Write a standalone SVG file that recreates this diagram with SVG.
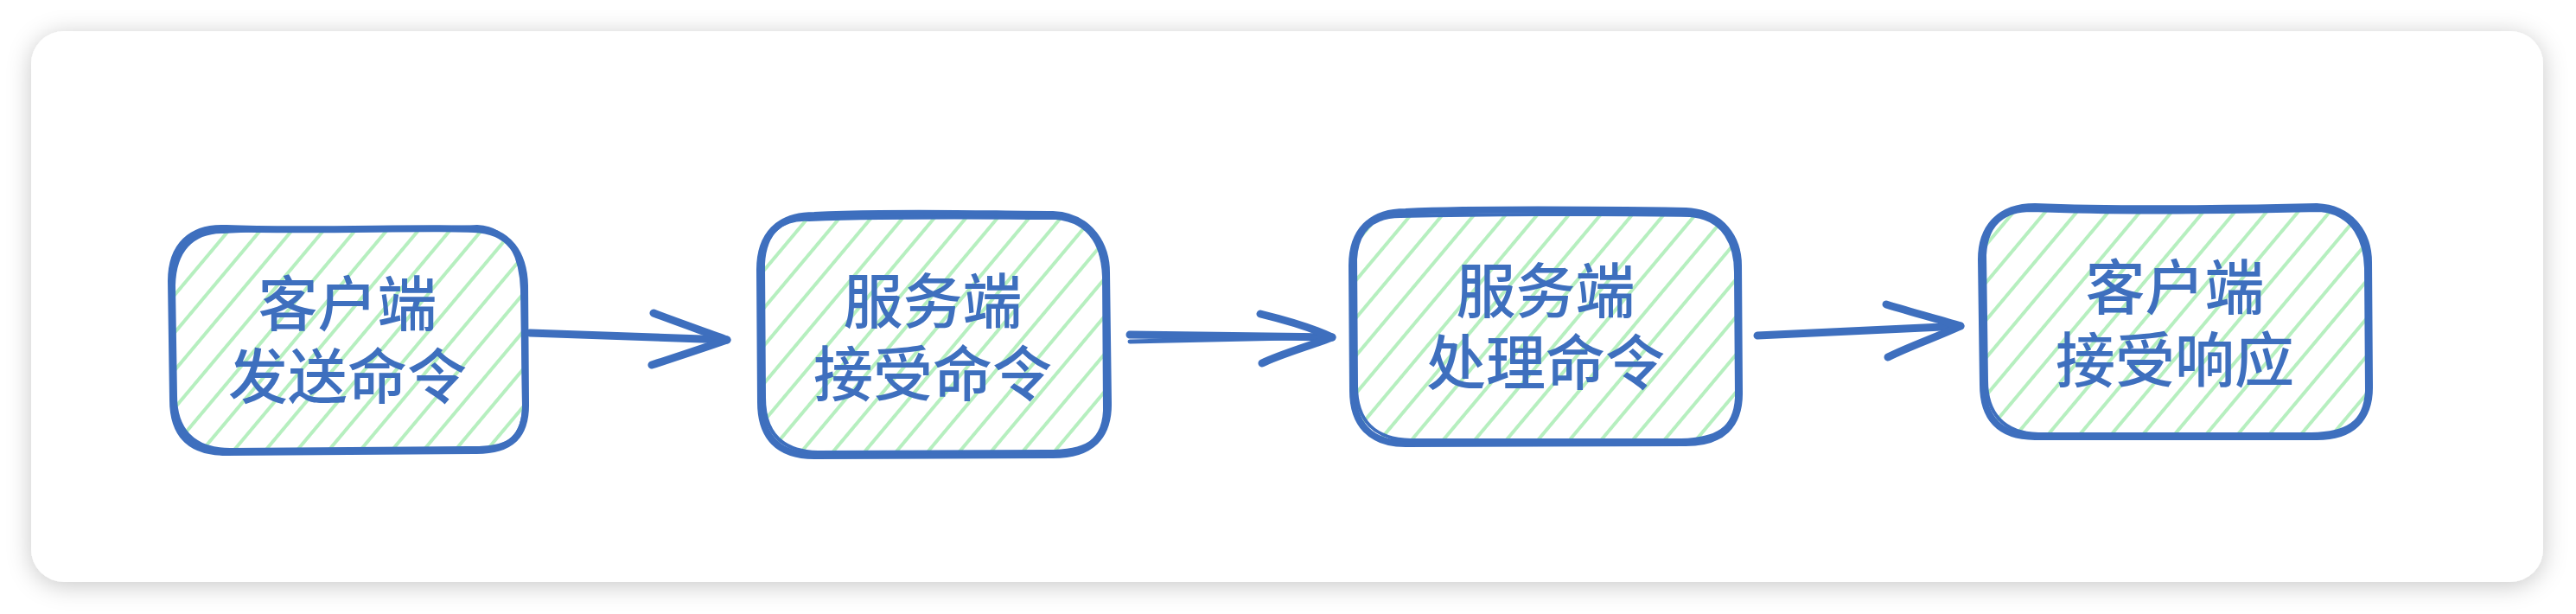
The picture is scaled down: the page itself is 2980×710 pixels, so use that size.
<svg xmlns="http://www.w3.org/2000/svg" width="2980" height="710" viewBox="0 0 2980 710">
<style>
.card{fill:#ffffff;}
.hatch{fill:url(#hatch);stroke:none;}
.edge{fill:none;stroke:#3e6fbe;stroke-width:8;stroke-linecap:round;stroke-linejoin:round;}
.edge2{fill:none;stroke:#3e6fbe;stroke-width:4;stroke-linecap:round;stroke-linejoin:round;}
.lbl{font-family:"Noto Sans CJK SC","Noto Sans",sans-serif;font-size:69px;font-weight:500;fill:#3e6fbe;text-anchor:middle;}
.conn{fill:none;stroke:#3e6fbe;stroke-width:9;stroke-linecap:round;stroke-linejoin:round;}
.conn2{fill:none;stroke:#3e6fbe;stroke-width:5;stroke-linecap:round;stroke-linejoin:round;}
</style>
<defs>
<filter id="shadow" x="-5%" y="-20%" width="110%" height="140%">
<feDropShadow dx="0" dy="4" stdDeviation="14" flood-color="#000000" flood-opacity="0.22"/>
</filter>
<pattern id="hatch" patternUnits="userSpaceOnUse" width="28" height="28" patternTransform="rotate(40)">
<line x1="10" y1="-5" x2="10" y2="35" stroke="#b6efbf" stroke-width="4"/>
</pattern>
</defs>
<rect x="0" y="0" width="2980" height="710" fill="#ffffff"/>
<rect class="card" x="36" y="36" width="2906" height="637" rx="38" ry="38" filter="url(#shadow)"/>

<g id="node1">
<path class="hatch" d="M 262,266 C 350,270 500,264 548,267 C 590,268 606,295 607,330 L 608,465 C 609,505 590,521 548,521 L 262,521 C 218,521 202,500 202,462 L 200,325 C 200,285 220,264 262,266 Z"/>
<path class="edge" d="M 262,264 C 350,268 500,262 548,265 C 590,266 606,295 607,330 L 608,465 C 609,505 590,522 548,521 L 262,523 C 218,523 200,500 200,462 L 198,325 C 198,285 220,262 262,264 Z"/>
<path class="edge2" d="M 258,268 C 360,262 480,266 552,262 C 594,264 603,305 604,335 L 606,472 C 604,510 585,519 542,518 L 266,520 C 222,520 203,495 203,458 L 201,330 C 202,290 222,268 258,268"/>
<text class="lbl"><tspan x="402" y="377">客户端</tspan><tspan x="402" y="461">发送命令</tspan></text>
</g>

<g id="node2">
<path class="hatch" d="M 942,251 C 1040,246 1150,250 1218,250 C 1262,252 1279,285 1279,315 L 1281,465 C 1281,505 1262,524 1218,524 L 942,525 C 900,525 882,505 882,465 L 881,312 C 881,272 900,251 942,251 Z"/>
<path class="edge" d="M 942,249 C 1040,244 1150,248 1218,248 C 1262,250 1280,285 1280,315 L 1282,465 C 1283,505 1262,526 1218,526 L 942,527 C 900,527 880,505 880,465 L 879,312 C 879,272 900,249 942,249 Z"/>
<path class="edge2" d="M 936,254 C 1040,250 1150,252 1222,252 C 1265,256 1276,290 1277,320 L 1278,475 C 1276,512 1255,522 1212,522 L 946,523 C 904,522 884,500 884,460 L 883,305 C 885,268 905,252 936,254"/>
<text class="lbl"><tspan x="1079" y="374">服务端</tspan><tspan x="1079" y="458">接受命令</tspan></text>
</g>

<g id="node3">
<path class="hatch" d="M 1626,247 C 1720,243 1880,245 1950,246 C 1993,248 2010,277 2010,307 L 2011,452 C 2011,492 1992,510 1950,510 L 1626,511 C 1585,511 1567,490 1567,452 L 1566,307 C 1566,268 1585,247 1626,247 Z"/>
<path class="edge" d="M 1626,245 C 1720,241 1880,243 1950,244 C 1993,246 2011,277 2011,307 L 2012,452 C 2013,492 1992,512 1950,512 L 1626,513 C 1585,513 1565,490 1565,452 L 1564,307 C 1564,268 1585,245 1626,245 Z"/>
<path class="edge2" d="M 1620,250 C 1720,248 1880,247 1955,249 C 1996,252 2008,285 2008,315 L 2009,460 C 2007,496 1986,508 1945,509 L 1632,509 C 1590,508 1569,486 1569,446 L 1568,300 C 1570,264 1590,250 1620,250"/>
<text class="lbl"><tspan x="1788" y="362">服务端</tspan><tspan x="1788" y="445">处理命令</tspan></text>
</g>

<g id="node4">
<path class="hatch" d="M 2354,241 C 2450,245 2600,243 2680,241 C 2722,243 2738,273 2739,303 L 2740,445 C 2740,485 2720,503 2680,503 L 2354,503 C 2312,503 2296,482 2296,445 L 2294,300 C 2294,262 2314,241 2354,241 Z"/>
<path class="edge" d="M 2354,239 C 2450,243 2600,241 2680,239 C 2722,241 2740,273 2740,303 L 2741,445 C 2742,485 2720,505 2680,505 L 2354,505 C 2312,505 2294,482 2294,445 L 2292,300 C 2292,262 2314,239 2354,239 Z"/>
<path class="edge2" d="M 2350,243 C 2450,247 2600,245 2684,243 C 2724,247 2736,280 2737,310 L 2738,452 C 2736,490 2714,501 2674,502 L 2358,502 C 2318,501 2298,478 2298,440 L 2296,295 C 2298,258 2318,243 2350,243"/>
<text class="lbl"><tspan x="2516" y="358">客户端</tspan><tspan x="2516" y="442">接受响应</tspan></text>
</g>

<g id="connectors">
<path class="conn" d="M 613,385 C 700,388 780,391 841,393"/>
<path class="conn" d="M 756,362 C 790,375 820,385 841,393 C 815,402 785,412 754,422"/>
<path class="conn" d="M 1307,387 C 1400,388 1480,389 1541,390"/>
<path class="conn2" d="M 1307,395 C 1400,393 1480,391 1541,390"/>
<path class="conn" d="M 1458,363 C 1495,372 1520,380 1541,390 C 1515,400 1480,410 1460,420"/>
<path class="conn" d="M 2033,388 C 2120,384 2200,380 2268,377"/>
<path class="conn" d="M 2182,352 C 2215,362 2245,370 2268,377 C 2240,390 2210,400 2184,413"/>
</g>
</svg>
